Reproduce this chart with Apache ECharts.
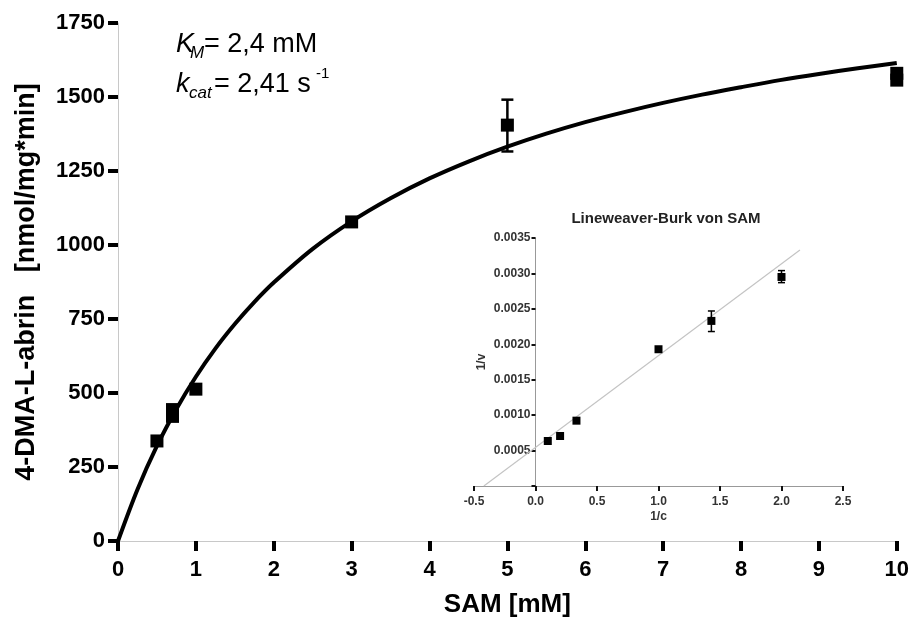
<!DOCTYPE html>
<html>
<head>
<meta charset="utf-8">
<style>
  html, body { margin: 0; padding: 0; background: #fff; }
  #chart { width: 912px; height: 623px; }
</style>
<script src="https://cdn.jsdelivr.net/npm/echarts@6/dist/echarts.min.js"></script>
</head>
<body>
<div id="chart"></div>
<script>
// Michaelis-Menten plot: SAM concentration vs. activity
const samX = [0.5, 0.7, 0.7, 1, 3, 5, 10, 10];
const activity = [338, 421, 444, 513, 1078, 1405, 1557, 1580];
const errX = [5];
const errLow = [1316];
const errHigh = [1491];

// fitted curve
const curveX = [0, 0.25, 0.5, 0.75, 1, 1.25, 1.5, 1.75, 2, 2.5, 3, 3.5, 4, 4.5, 5, 5.5, 6, 6.5, 7, 7.5, 8, 8.5, 9, 9.5, 10];
const curveY = [0, 174, 321, 446, 555, 650, 733, 807, 873, 987, 1080, 1158, 1225, 1282, 1332, 1376, 1415, 1449, 1480, 1508, 1533, 1557, 1578, 1597, 1615];

// inset: Lineweaver-Burk
const lbX = [0.1, 0.2, 0.333, 1.0, 1.43, 2.0];
const lbY = [0.000635, 0.000706, 0.000922, 0.00193, 0.00233, 0.00295];
const lbErrX = [1.43, 2.0];
const lbErrLow = [0.00218, 0.00287];
const lbErrHigh = [0.00247, 0.00304];
const lbLineX = [-0.42, 2.15];
const lbLineY = [0, 0.00333];

const FONT = "Liberation Sans, Arial, sans-serif";

const zip = (a, b) => a.map((v, i) => [v, b[i]]);

function errorBars(capHalf, width) {
    return function (params, api) {
        const x = api.value(0);
        const lo = api.coord([x, api.value(1)]);
        const hi = api.coord([x, api.value(2)]);
        const st = { stroke: "#000", lineWidth: width };
        return {
            type: "group",
            children: [
                { type: "line", shape: { x1: lo[0], y1: lo[1], x2: hi[0], y2: hi[1] }, style: st },
                { type: "line", shape: { x1: lo[0] - capHalf, y1: lo[1], x2: lo[0] + capHalf, y2: lo[1] }, style: st },
                { type: "line", shape: { x1: hi[0] - capHalf, y1: hi[1], x2: hi[0] + capHalf, y2: hi[1] }, style: st },
            ],
        };
    };
}

const chart = echarts.init(document.getElementById("chart"));

const bigLabel = { color: "#000", fontFamily: FONT, fontWeight: "bold", fontSize: 22 };
const smallLabel = { color: "#333", fontFamily: FONT, fontWeight: "bold", fontSize: 12 };

function txt(x, y, text, size, italic) {
    return {
        type: "text",
        left: x,
        top: y,
        style: {
            text: text,
            fill: "#000",
            font: (italic ? "italic " : "") + size + "px " + FONT,
        },
    };
}

chart.setOption({
    animation: false,
    backgroundColor: "#fff",
    grid: [
        { left: 118, right: 15, top: 23, bottom: 80 },
        { left: 474, width: 369, top: 238, height: 248 },
    ],
    xAxis: [
        {
            type: "value", gridIndex: 0, min: 0, max: 10, interval: 1,
            name: "SAM [mM]", nameLocation: "middle", nameGap: 51,
            nameTextStyle: { color: "#000", fontFamily: FONT, fontWeight: "bold", fontSize: 26 },
            axisLine: { onZero: false, lineStyle: { color: "#c8c8c8", width: 1 } },
            axisTick: { show: true, length: 10, lineStyle: { color: "#000", width: 4 } },
            axisLabel: Object.assign({ margin: 18 }, bigLabel),
            splitLine: { show: false },
        },
        {
            type: "value", gridIndex: 1, min: -0.5, max: 2.5, interval: 0.5,
            name: "1/c", nameLocation: "middle", nameGap: 25,
            nameTextStyle: smallLabel,
            axisLine: { lineStyle: { color: "#999", width: 1 } },
            axisTick: { show: true, length: 5, lineStyle: { color: "#111", width: 2 } },
            axisLabel: Object.assign({ margin: 10, formatter: (v) => v.toFixed(1) }, smallLabel),
            splitLine: { show: false },
        },
    ],
    yAxis: [
        {
            type: "value", gridIndex: 0, min: 0, max: 1750, interval: 250,
            name: "4-DMA-L-abrin   [nmol/mg*min]", nameLocation: "middle", nameGap: 78,
            nameTextStyle: { color: "#000", fontFamily: FONT, fontWeight: "bold", fontSize: 27 },
            axisLine: { show: true, onZero: false, lineStyle: { color: "#c8c8c8", width: 1 } },
            axisTick: { show: true, length: 10, lineStyle: { color: "#000", width: 4 } },
            axisLabel: Object.assign({ margin: 13, formatter: (v) => String(v) }, bigLabel),
            splitLine: { show: false },
        },
        {
            type: "value", gridIndex: 1, min: 0, max: 0.0035, interval: 0.0005,
            // shift the axis onto x = 0 of the inset
            offset: -61.5,
            name: "1/v", nameLocation: "middle", nameGap: 48,
            nameTextStyle: smallLabel,
            axisLine: { show: true, onZero: false, lineStyle: { color: "#999", width: 1 } },
            axisTick: { show: true, length: 4, lineStyle: { color: "#111", width: 2 } },
            axisLabel: Object.assign({
                margin: 5,
                formatter: (v) => (v === 0 ? "" : v.toFixed(4)),
            }, smallLabel),
            splitLine: { show: false },
        },
    ],
    title: {
        text: "Lineweaver-Burk von SAM",
        left: 661, top: 206, textAlign: "center",
        textStyle: { color: "#222", fontFamily: FONT, fontWeight: "bold", fontSize: 15 },
    },
    graphic: [
        txt(176, 31, "K", 27, true),
        txt(190, 45, "M", 17, true),
        txt(204, 31, "= 2,4 mM", 27, false),
        txt(176, 71, "k", 27, true),
        txt(189, 85, "cat", 17, true),
        txt(214, 71, "= 2,41 s", 27, false),
        txt(316, 66, "-1", 15, false),
    ],
    series: [
        {
            type: "line", xAxisIndex: 0, yAxisIndex: 0,
            data: zip(curveX, curveY),
            smooth: 0.3, showSymbol: false,
            lineStyle: { color: "#000", width: 4 },
            z: 2,
        },
        {
            type: "custom", xAxisIndex: 0, yAxisIndex: 0,
            data: errX.map((x, i) => [x, errLow[i], errHigh[i]]),
            encode: { x: 0, y: [1, 2] },
            renderItem: errorBars(6, 2.5),
            z: 3,
        },
        {
            type: "scatter", xAxisIndex: 0, yAxisIndex: 0,
            data: zip(samX, activity),
            symbol: "rect", symbolSize: 13,
            itemStyle: { color: "#000", opacity: 1 },
            clip: false, z: 4,
        },
        {
            type: "line", xAxisIndex: 1, yAxisIndex: 1,
            data: zip(lbLineX, lbLineY),
            showSymbol: false,
            lineStyle: { color: "#c4c4c4", width: 1.2 },
            z: 2,
        },
        {
            type: "custom", xAxisIndex: 1, yAxisIndex: 1,
            data: lbErrX.map((x, i) => [x, lbErrLow[i], lbErrHigh[i]]),
            encode: { x: 0, y: [1, 2] },
            renderItem: errorBars(3.5, 1.5),
            z: 3,
        },
        {
            type: "scatter", xAxisIndex: 1, yAxisIndex: 1,
            data: zip(lbX, lbY),
            symbol: "rect", symbolSize: 8,
            itemStyle: { color: "#000", opacity: 1 },
            z: 4,
        },
    ],
});
</script>
</body>
</html>
